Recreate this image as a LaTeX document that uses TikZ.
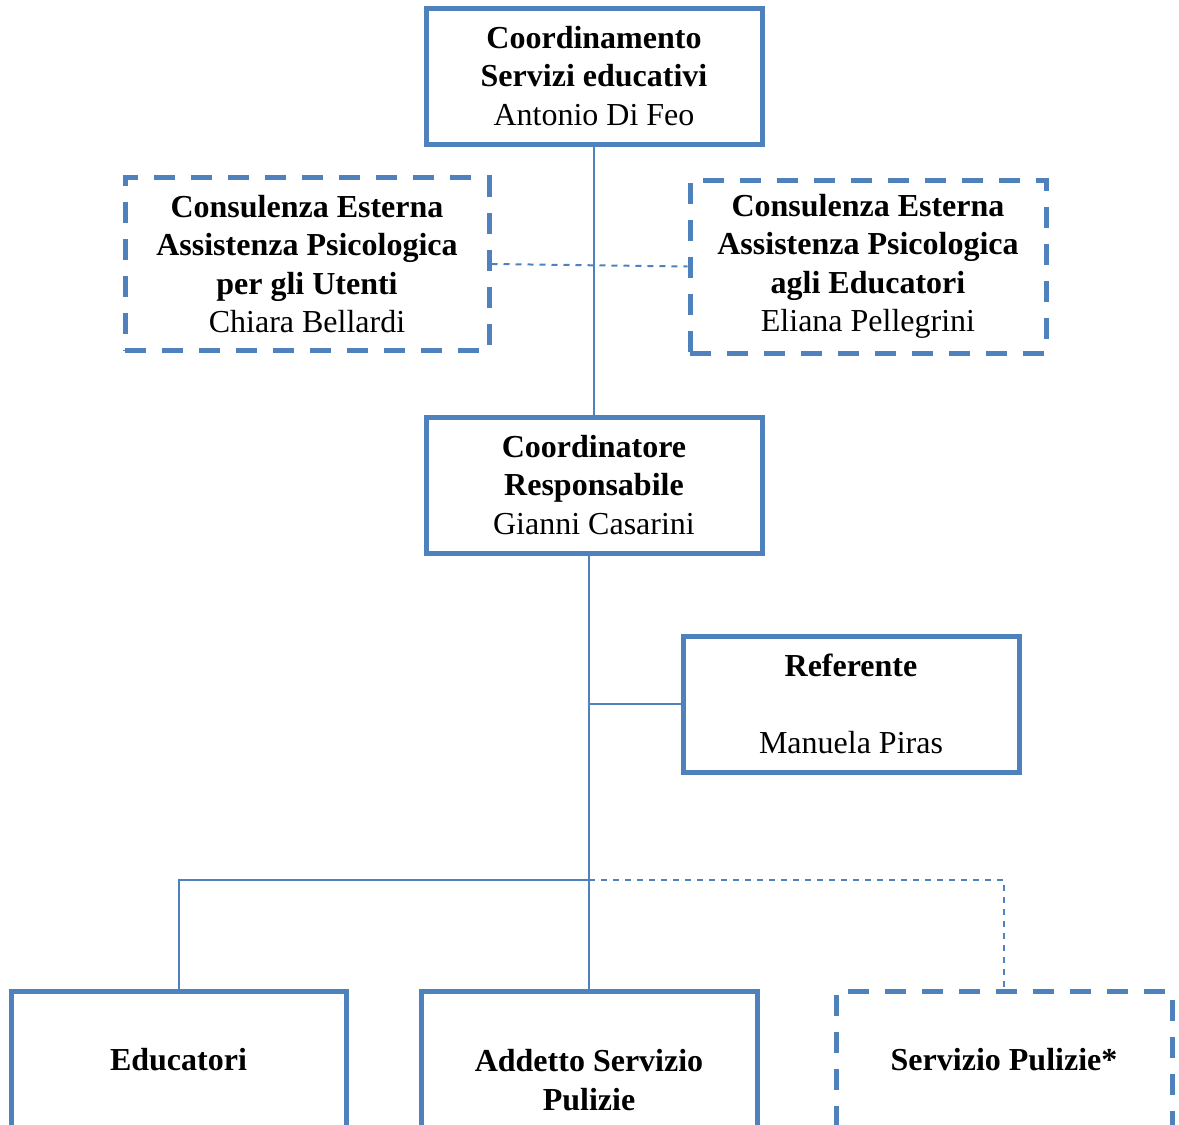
\documentclass[tikz,border=0pt]{standalone}
\usepackage{fontspec}
\setmainfont{Liberation Serif}
\usepackage{tikz}
\usetikzlibrary{positioning}
\definecolor{orgblue}{RGB}{79,129,189}
\tikzset{box/.style={rectangle,draw=orgblue,line width=2.5pt,minimum width=168pt,minimum height=68pt,align=center,font=\fontsize{16}{19.25}\selectfont,inner sep=0pt},
  dashbox/.style={box,dash pattern=on 10.5pt off 8pt},
  link/.style={draw=orgblue,line width=1pt},
  dashlink/.style={link,dash pattern=on 3pt off 3pt}}

\begin{document}
\begin{tikzpicture}[x=0.5pt,y=-0.5pt]
    \useasboundingbox (0,0) rectangle (1179,1125);
    \clip (0,0) rectangle (1179,1125);

    \node[box] (coord) at (594,76) {\textbf{Coordinamento}\\\textbf{Servizi educativi}\\Antonio Di Feo};
    \node[dashbox,minimum width=182pt,minimum height=86.5pt] (psiU) at (307,264) {\textbf{Consulenza Esterna}\\\textbf{Assistenza Psicologica}\\\textbf{per gli Utenti}\\Chiara Bellardi};
    \node[dashbox,minimum width=178pt,minimum height=86.5pt] (psiE) at (868,266.5) {\textbf{Consulenza Esterna}\\\textbf{Assistenza Psicologica}\\\textbf{agli Educatori}\\Eliana Pellegrini};
    \node[box] (resp) at (594,485) {\textbf{Coordinatore}\\\textbf{Responsabile}\\Gianni Casarini};
    \node[box] (ref) at (851,704) {\textbf{Referente}\\[19.25pt]Manuela Piras};
    \node[box,minimum width=167.5pt,minimum height=69pt] (educ) at (178.5,1060) {\textbf{Educatori}};
    \node[box,minimum height=89pt] (addetto) at (589,1080) {\textbf{Addetto Servizio}\\\textbf{Pulizie}};
    \node[dashbox,minimum height=69pt] (pulizie) at (1004,1060) {\textbf{Servizio Pulizie*}};
    \coordinate (branch) at (589,880);

    \draw[link] (coord.south) -- (resp.north);
    \draw[dashlink] (psiU.east) -- (psiE.west);
    \draw[link] (resp.south -| addetto.north) -- (addetto.north);
    \draw[link] (addetto.north |- ref.west) -- (ref.west);
    \draw[link] (branch) -| (educ.north);
    \draw[dashlink] (branch) -| (pulizie.north);
\end{tikzpicture}
\end{document}
